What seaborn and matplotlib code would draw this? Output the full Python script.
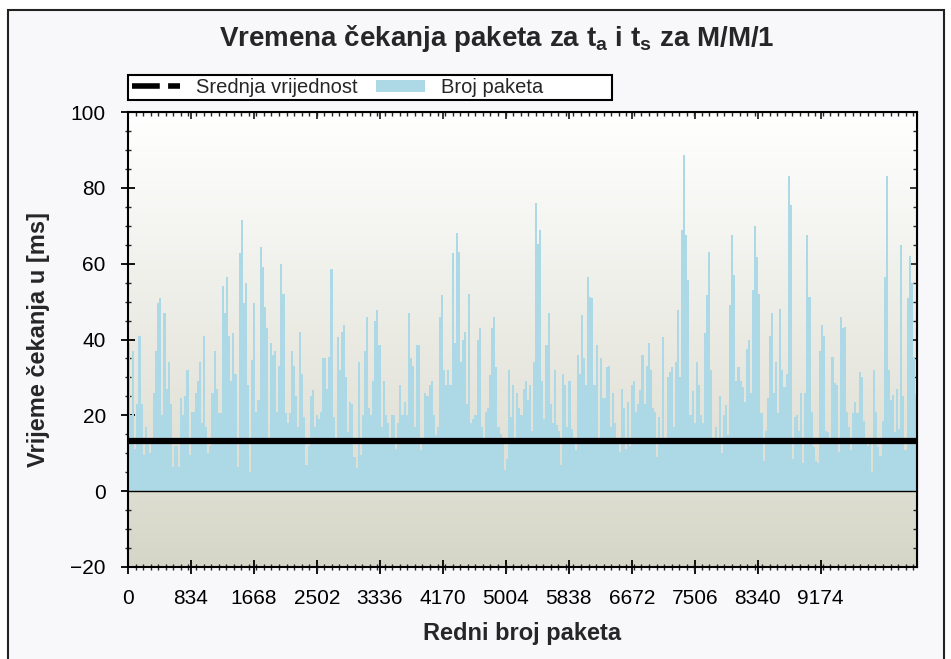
import numpy as np
import matplotlib
matplotlib.use("Agg")
import matplotlib.pyplot as plt
from matplotlib.lines import Line2D
from matplotlib.patches import Patch, Rectangle
from matplotlib.ticker import MultipleLocator
import seaborn as sns

# vrijeme cekanja po grupi paketa [ms], procitano sa slike (s lijeva na desno)
wait_a = [39, 20, 37, 11, 23, 41, 23, 9.5, 17, 13, 10, 14, 26, 37, 49.5, 51, 20, 47, 27, 34,
          23, 6.4, 12, 12, 6.5, 24.5, 20, 25, 32, 9.5, 21, 21, 26, 29, 34, 18, 41, 17, 10, 12,
          26, 37, 27, 20.5, 20.5, 54, 47, 56.5, 41, 29, 41.6, 31, 6.4, 62.7, 71.5, 49.5, 55, 28,
          5, 34.6, 49.5, 21, 24, 64.5, 59, 48.6, 43, 13, 39, 36, 37, 21, 33, 60, 52, 20.5, 18,
          20.5, 37, 33, 25, 17, 42, 31, 19.6, 7, 12, 25, 26.6, 17, 20, 19, 21, 35]
wait_b = [35, 27, 35.4, 58.7, 19.6, 14, 40.7, 32, 42, 43.8, 30, 15.6, 23.6, 23, 9, 6, 34, 9.5,
          20, 37, 46, 22, 20, 29, 45, 47.8, 38.5, 17, 29, 20, 18, 14, 20, 20, 11, 18, 28, 20,
          23.6, 20, 47, 35, 33, 17, 38.5, 38.5, 10.8, 12.6, 25.8, 25, 28, 29, 20, 14.8, 17, 46,
          51.7, 32, 28, 32, 28, 62.7, 39, 68, 63, 34, 40, 42, 23, 52, 18, 19, 20, 39.8, 43, 17,
          14, 21, 22, 30.6, 43, 46, 32.8, 17, 15, 14, 5.5, 8.6, 32, 19.6, 28, 14, 25.8, 22, 20,
          27, 29, 24]
wait_c = [28, 16, 34, 75.9, 65.3, 68.9, 29, 19, 38.5, 47, 23, 18, 32, 17.4, 16, 7, 31, 28, 17,
          29, 16.5, 14, 10.8, 36, 31, 46.4, 35, 28, 56.5, 51.3, 51, 28, 38.5, 14, 35, 24.5, 24.5,
          32.8, 33, 17, 25.8, 18, 14, 10.4, 27, 22, 11, 23.5, 12, 28, 29, 21, 23, 26.6, 36, 23,
          33, 39, 32, 22, 21, 9, 19.6, 14, 40.7, 14, 30, 31.5, 32.8, 17, 34, 47.8, 30, 68.9, 88.7,
          67.5, 55.7, 20, 26.5, 18, 34, 28, 20, 18, 41.6, 51.7, 63, 32, 14, 17, 14, 25]
wait_d = [10, 20, 22.7, 14.8, 49, 67.5, 57, 29, 32.8, 29, 27.5, 23.6, 37.6, 40, 26, 53, 70, 61.8,
          52, 20.5, 8, 16, 24.5, 41, 47, 26, 34, 20.5, 48, 32, 27.5, 31, 83, 75.5, 8.6, 19.6, 20,
          16, 25.8, 7.3, 26, 67.5, 51.3, 21, 11.6, 8, 7.5, 37, 43.8, 41, 16, 15.6, 13.4, 35.4,
          28.4, 28, 10.4, 46, 43, 43.4, 21, 17, 10.8, 20.5, 23.6, 20.5, 31.5, 30, 18.5, 12.6, 12,
          14, 5, 32, 21, 11.6, 9.3, 18.5, 56.5, 83, 32, 24, 25.3, 15.6, 27, 16.5, 65, 25, 10.8,
          51, 62, 55, 35, 25.5]
wait_times = wait_a + wait_b + wait_c + wait_d

mean_wait = 13.2          # srednja vrijednost [ms]
x_max = 10450             # kraj x osi
x_ticks = [0, 834, 1668, 2502, 3336, 4170, 5004, 5838, 6672, 7506, 8340, 9174]
y_ticks = [-20, 0, 20, 40, 60, 80, 100]

n = len(wait_times)
bin_w = x_max / n
packet_no = (np.arange(n) + 0.5) * bin_w

sns.set_style("ticks")
plt.rcParams["font.family"] = ["Liberation Sans", "DejaVu Sans"]
plt.rcParams["mathtext.fontset"] = "custom"
plt.rcParams["mathtext.bf"] = "Liberation Sans:bold"
plt.rcParams["mathtext.rm"] = "Liberation Sans"

fig = plt.figure(figsize=(9.51, 6.59), dpi=100)
fig.patch.set_facecolor("white")
# okvir slike
fig.patches.append(Rectangle((8 / 951, -0.1), 936 / 951, 1.1 - 10 / 659,
                             transform=fig.transFigure, facecolor="#f8f8fb",
                             edgecolor="#222222", lw=1.5, zorder=-5))

ax = fig.add_axes([128 / 951, 1 - 567 / 659, 789 / 951, 455 / 659])
ax.set_xlim(0, x_max)
ax.set_ylim(-20, 100)

# gradijent pozadine
grad = np.linspace(0, 1, 256)[:, None]
top = np.array([1.0, 1.0, 1.0])
bot = np.array([214, 214, 200]) / 255
img = top[None, None, :] * (1 - grad[:, :, None]) + bot[None, None, :] * grad[:, :, None]
ax.imshow(img, extent=(0, x_max, -20, 100), aspect="auto", zorder=0, origin="upper")

sns.histplot(x=packet_no, weights=wait_times, bins=n, binrange=(0, x_max),
             color="#add8e6", alpha=1, linewidth=0, edgecolor="none", ax=ax, zorder=2)

ax.axhline(0, color="black", lw=1, zorder=3)
ax.axhline(mean_wait, color="black", lw=4.5, zorder=4)

ax.set_xticks(x_ticks)
ax.set_yticks(y_ticks)
ax.xaxis.set_minor_locator(MultipleLocator(100))
ax.yaxis.set_minor_locator(MultipleLocator(5))
ax.tick_params(which="major", direction="inout", length=10, width=1.3, pad=11,
               labelsize=15, colors="black")
ax.tick_params(which="minor", direction="inout", length=5, width=1)
for s in ax.spines.values():
    s.set_linewidth(1.5)
    s.set_color("black")
    s.set_zorder(6)

sec_y = ax.secondary_yaxis("right")
sec_y.set_yticks(y_ticks)
sec_y.yaxis.set_minor_locator(MultipleLocator(5))
sec_y.tick_params(which="major", direction="in", length=5, width=1.3, labelright=False)
sec_y.tick_params(which="minor", direction="in", length=3, width=1)
sec_x = ax.secondary_xaxis("top")
sec_x.set_xticks(x_ticks)
sec_x.xaxis.set_minor_locator(MultipleLocator(100))
sec_x.tick_params(which="major", direction="in", length=5, width=1.3, labeltop=False)
sec_x.tick_params(which="minor", direction="in", length=3, width=1)

ax.set_xlabel("Redni broj paketa", fontsize=17, fontweight="bold")
ax.set_ylabel("Vrijeme čekanja u [ms]", fontsize=17, fontweight="bold")
ax.xaxis.set_label_coords(0.5, -0.121)
ax.yaxis.set_label_coords(-0.099, 0.5)

fig.text(497 / 951, 1 - 39 / 659,
         r"Vremena čekanja paketa za t$_\mathbf{a}$ i t$_\mathbf{s}$ za M/M/1",
         ha="center", va="center", fontsize=20, fontweight="bold")

# okvir legende
fig.patches.append(Rectangle((128 / 951, 1 - 100 / 659), 484 / 951, 25 / 659,
                             transform=fig.transFigure, facecolor="white",
                             edgecolor="black", lw=1.5, zorder=5))
handles = [Line2D([], [], color="black", lw=4, ls=(0, (5, 1.5))),
           Patch(facecolor="#add8e6", edgecolor="none")]
leg = fig.legend(handles, ["Srednja vrijednost", "Broj paketa"], ncol=2,
                 loc="center left", fontsize=14.5,
                 bbox_to_anchor=(128 / 951, 1 - 87.5 / 659),
                 frameon=False, borderaxespad=0, borderpad=0.2,
                 handlelength=2.4, handletextpad=0.8, columnspacing=0.9,
                 handleheight=0.6)
leg.set_zorder(6)

fig.savefig("out.png", dpi=100)
